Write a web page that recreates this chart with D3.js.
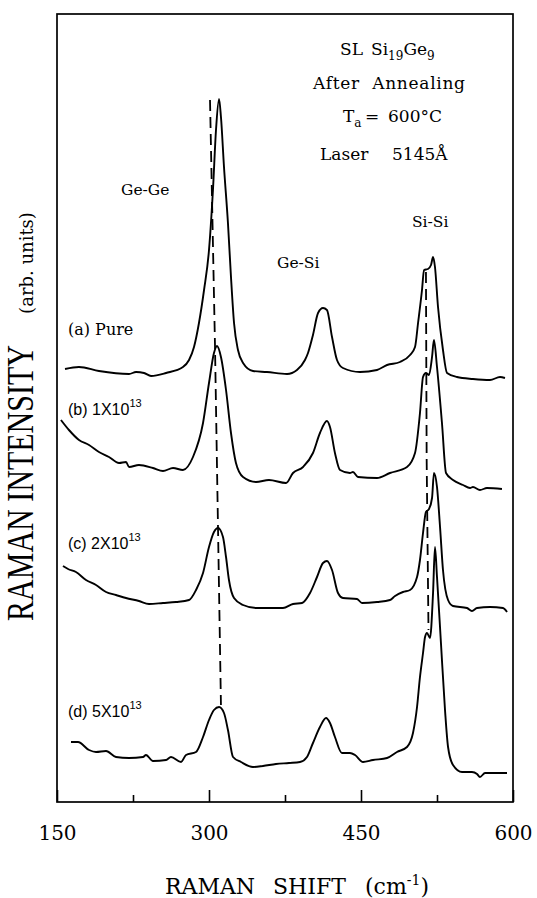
<!DOCTYPE html>
<html><head><meta charset="utf-8">
<script src="https://cdn.jsdelivr.net/npm/d3@7"></script>
<style>body{margin:0;background:#fff} svg{display:block} text{white-space:pre}</style>
</head><body>
<svg id="c" width="537" height="898"></svg>
<script>
// Raman shift (cm-1), intensity (arb. units, vertically offset spectra)
const curveA = [[157.9,433],[171.7,435],[191.4,431],[221.1,428],[228.0,430],[235.9,429],[242.8,426],[257.6,429],[274.3,435],[280.3,442],[285.2,455],[290.1,479],[295.1,512],[300.0,552],[303.9,612],[306.9,672],[309.9,703],[311.8,685],[314.8,635],[318.7,579],[321.7,525],[324.7,479],[328.6,452],[333.6,439],[343.4,431],[357.2,430],[377.0,428],[386.8,432],[394.7,442],[397.7,449],[402.6,467],[407.6,489],[412.5,494],[416.4,492],[421.4,465],[426.3,442],[432.2,434],[449.0,430],[465.8,432],[475.7,437],[488.5,440],[498.4,447],[503.3,455],[506.3,479],[510.2,512],[512.2,532],[516.1,533],[519.1,537],[521.1,545],[523.0,535],[526.0,495],[530.9,452],[534.9,429],[544.7,425],[560.5,423],[577.3,422],[587.2,425],[592.1,424]];
const curveB = [[153.9,382],[161.8,372],[171.7,362],[181.6,357],[191.4,350],[201.3,345],[211.2,339],[218.1,340],[221.1,335],[230.9,337],[244.7,334],[254.6,331],[264.5,334],[274.3,332],[284.2,345],[294.1,379],[300.0,419],[304.9,449],[307.9,456],[311.8,445],[316.8,412],[321.7,369],[326.6,339],[333.6,325],[346.4,320],[359.2,322],[376.0,319],[382.9,329],[392.8,335],[402.6,349],[409.5,369],[416.4,381],[419.4,375],[424.3,349],[429.3,332],[439.1,329],[442.1,330],[447.0,325],[465.8,324],[478.6,329],[495.4,335],[503.3,349],[508.2,389],[511.2,425],[514.1,429],[517.1,427],[520.1,445],[522.0,462],[525.0,435],[529.9,379],[533.9,329],[540.8,322],[550.7,317],[557.6,314],[560.5,315],[567.4,312],[574.3,314],[589.1,313]];
const curveC = [[155.9,236],[160.9,233],[168.7,230],[178.6,222],[188.5,217],[198.4,210],[208.2,207],[218.1,204],[230.9,201],[240.8,198],[254.6,199],[267.4,200],[280.3,202],[287.2,212],[294.1,229],[300.0,255],[304.9,270],[308.9,274],[313.8,265],[316.8,245],[319.7,222],[324.7,204],[333.6,197],[346.4,194],[359.2,194],[373.0,194],[382.9,198],[391.8,199],[399.7,209],[406.6,225],[412.5,239],[416.4,241],[421.4,232],[427.3,209],[432.2,204],[446.1,203],[451.0,199],[465.8,200],[478.6,202],[483.6,206],[491.4,210],[498.4,212],[505.3,225],[508.2,242],[511.2,269],[514.1,290],[517.1,293],[520.1,304],[522.0,329],[525.0,315],[528.0,275],[530.9,232],[535.9,202],[540.8,196],[554.6,194],[559.5,191],[564.5,194],[577.3,195],[590.1,194],[594.1,190]];
const curveD = [[163.8,60],[170.7,60],[181.6,52],[188.5,50],[198.4,51],[208.2,45],[221.1,44],[234.9,45],[237.8,47],[244.7,41],[257.6,42],[262.5,45],[272.4,40],[277.3,47],[287.2,50],[294.1,65],[300.0,82],[304.9,92],[309.9,95],[314.8,89],[318.7,72],[323.7,45],[331.6,40],[343.4,35],[353.3,36],[366.1,38],[378.9,39],[389.8,40],[396.7,45],[402.6,59],[409.5,75],[415.5,84],[419.4,79],[424.3,65],[431.2,49],[439.1,49],[444.1,47],[452.0,40],[461.8,42],[475.7,44],[485.5,50],[495.4,55],[501.3,69],[505.3,95],[508.2,125],[511.2,149],[513.2,165],[515.1,169],[518.1,164],[521.1,209],[523.0,255],[525.0,225],[528.9,159],[532.9,92],[535.9,55],[540.8,37],[549.7,30],[559.5,30],[564.5,28],[567.4,25],[572.4,29],[584.2,29],[594.1,29]];
const dashGeGe = [[301.0,702],[305.9,457],[311.8,97]];
const dashSiSi = [[514.1,530],[514.8,342],[516.6,172]];
const majorTicks = [150,300,450,600];
const minorTicks = [225,375,525];

const W=537,H=898;
const m={l:57,t:14,r:513,b:802};
const x=d3.scaleLinear().domain([150,600]).range([m.l,m.r]);
const y=d3.scaleLinear().domain([0,788]).range([m.b,m.t]);
const svg=d3.select('#c');
svg.append('rect').attr('width',W).attr('height',H).attr('fill','#fff');

const line=d3.line().x(d=>x(d[0])).y(d=>y(d[1])).curve(d3.curveMonotoneX);
[curveA,curveB,curveC,curveD].forEach(c=>svg.append('path').attr('d',line(c))
  .attr('fill','none').attr('stroke','#000').attr('stroke-width',1.9).attr('stroke-linejoin','round'));
const dline=d3.line().x(d=>x(d[0])).y(d=>y(d[1]));
[dashGeGe,dashSiSi].forEach(c=>svg.append('path').attr('d',dline(c))
  .attr('fill','none').attr('stroke','#000').attr('stroke-width',1.8).attr('stroke-dasharray','11,6'));

svg.append('rect').attr('x',m.l).attr('y',m.t).attr('width',m.r-m.l).attr('height',m.b-m.t)
  .attr('fill','none').attr('stroke','#000').attr('stroke-width',1.7);

const ax=svg.append('g').attr('transform',`translate(0,${m.b})`)
  .call(d3.axisBottom(x).tickValues(majorTicks).tickSizeInner(-12).tickSizeOuter(0).tickPadding(24).tickFormat(d3.format('d')));
ax.select('.domain').remove();
ax.selectAll('line').attr('stroke','#000').attr('stroke-width',1.6);
ax.selectAll('text').attr('font-family','DejaVu Serif').attr('font-size',20).attr('fill','#000');
const ax2=svg.append('g').attr('transform',`translate(0,${m.b})`)
  .call(d3.axisBottom(x).tickValues(minorTicks).tickSizeInner(-7).tickSizeOuter(0).tickFormat(()=>''));
ax2.select('.domain').remove();
ax2.selectAll('line').attr('stroke','#000').attr('stroke-width',1.6);

function t(xp,yp,str,fs,ff){return svg.append('text').attr('x',xp).attr('y',yp).attr('font-size',fs).attr('font-family',ff||'DejaVu Serif').attr('fill','#000').text(str);}

// x-axis title
const xt=svg.append('text').attr('y',894).attr('font-family','DejaVu Serif').attr('font-size',22).attr('fill','#000');
xt.append('tspan').attr('x',165).text('RAMAN');
xt.append('tspan').attr('x',273).text('SHIFT');
xt.append('tspan').attr('x',365).text('(cm');
xt.append('tspan').attr('font-size',14).attr('dy',-9).text('-1');
xt.append('tspan').attr('font-size',22).attr('dy',9).text(')');

// y-axis title
svg.append('text').attr('transform','translate(33,483) rotate(-90)').attr('text-anchor','middle')
  .attr('font-family','Liberation Serif').attr('font-size',37).attr('textLength',276).attr('lengthAdjust','spacingAndGlyphs')
  .attr('fill','#000').text('RAMAN INTENSITY');
svg.append('text').attr('transform','translate(33,263) rotate(-90)').attr('text-anchor','middle')
  .attr('font-family','DejaVu Serif').attr('font-size',18).attr('fill','#000').text('(arb. units)');

// annotation block
const s1=svg.append('text').attr('y',55).attr('font-family','DejaVu Serif').attr('font-size',17).attr('fill','#000');
s1.append('tspan').attr('x',340).text('SL');
s1.append('tspan').attr('x',371).text('Si');
s1.append('tspan').attr('font-size',12).attr('dy',5).text('19');
s1.append('tspan').attr('dy',-5).text('Ge');
s1.append('tspan').attr('font-size',12).attr('dy',5).text('9');
t(313,89,'After  Annealing',17).attr('textLength',152);
const s3=svg.append('text').attr('y',122).attr('font-family','DejaVu Serif').attr('font-size',17).attr('fill','#000');
s3.append('tspan').attr('x',343).text('T');
s3.append('tspan').attr('font-size',12).attr('dy',5).text('a');
s3.append('tspan').attr('x',365).attr('dy',-5).text('=');
s3.append('tspan').attr('x',388).text('600°C');
t(320,160,'Laser',17);
t(392,160,'5145Å',17);

// peak labels
t(121,195,'Ge-Ge',15.5);
t(277,268,'Ge-Si',15.5);
t(412,227,'Si-Si',15.5);

// sample labels
t(68,335,'(a) Pure',16);
const dose=[['(b) 1X10','13',415],['(c) 2X10','13',549],['(d) 5X10','13',717]];
dose.forEach(d=>{
  const e=svg.append('text').attr('x',68).attr('y',d[2]).attr('font-family','Liberation Sans').attr('font-size',16).attr('fill','#000');
  e.append('tspan').text(d[0]);
  e.append('tspan').attr('font-size',11).attr('dy',-8).text(d[1]);
});
</script>
</body></html>
